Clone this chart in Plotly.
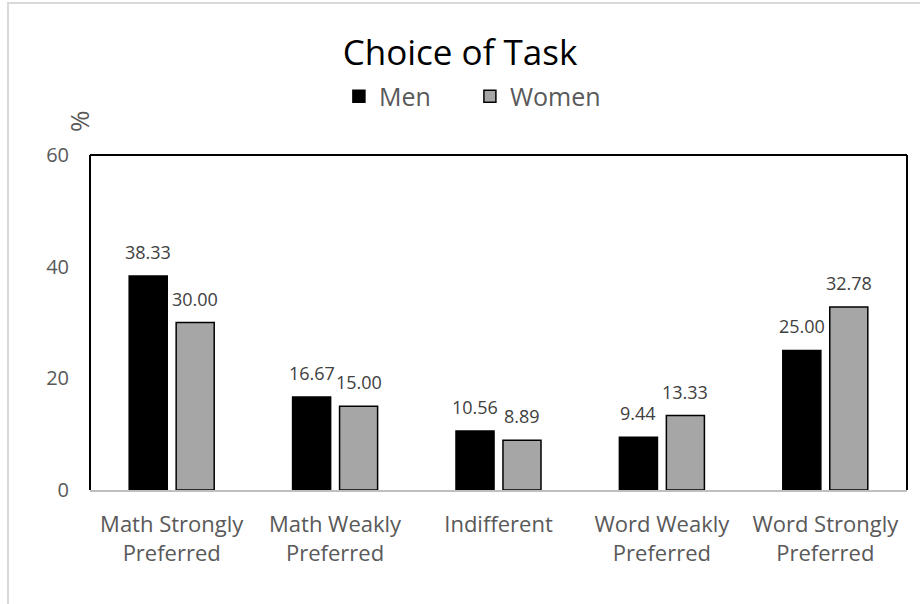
import plotly.graph_objects as go

categories = ["Math Strongly<br>Preferred", "Math Weakly<br>Preferred", "Indifferent",
              "Word Weakly<br>Preferred", "Word Strongly<br>Preferred"]
men = [38.33, 16.67, 10.56, 9.44, 25.00]
women = [30.00, 15.00, 8.89, 13.33, 32.78]
y_ticks = [0, 20, 40, 60]

FONT = "Open Sans"
W, H = 920, 604
ML, MR, MT, MB = 90, 13, 155, 114
BARGAP, GROUPGAP = 0.425, 0.19

fig = go.Figure()
fig.add_trace(go.Bar(
    name="Men", x=categories, y=men,
    marker=dict(color="#000000", line=dict(color="#000000", width=1.5)),
))
fig.add_trace(go.Bar(
    name="Women", x=categories, y=women,
    marker=dict(color="#a6a6a6", line=dict(color="#000000", width=1.5)),
))

# data labels above bars, shifted to each bar's slot in the group
cat_w = (W - ML - MR) / len(categories)
slot = cat_w * (1 - BARGAP) / 2
for vals, shift in [(men, -slot / 2), (women, slot / 2)]:
    for c, v in zip(categories, vals):
        fig.add_annotation(x=c, y=v, text=f"{v:.2f}", showarrow=False,
                           xshift=shift, yshift=10, yanchor="bottom",
                           font=dict(family=FONT, size=18, color="#404040"))

fig.update_layout(
    width=W, height=H,
    margin=dict(l=ML, r=MR, t=MT, b=MB),
    paper_bgcolor="white", plot_bgcolor="white",
    barmode="group", bargap=BARGAP, bargroupgap=GROUPGAP,
    title=dict(text="Choice of Task", x=0.5, xanchor="center", y=0.912, yanchor="middle",
               font=dict(family=FONT, size=35, color="#000000")),
    legend=dict(orientation="h", x=0.465, xanchor="center", y=1.175, yanchor="middle",
                font=dict(family=FONT, size=25, color="#595959"),
                itemwidth=30, entrywidth=86, entrywidthmode="pixels",
                traceorder="normal"),
    showlegend=True,
)
fig.update_xaxes(showline=True, linecolor="#bfbfbf", linewidth=2, ticks="",
                 tickfont=dict(family=FONT, size=22, color="#595959"), showgrid=False,
                 ticklabelstandoff=14)
fig.update_yaxes(range=[0, 60], tickvals=y_ticks, showgrid=False, zeroline=False,
                 showline=False, ticks="", ticklabelstandoff=20,
                 tickfont=dict(family=FONT, size=20, color="#595959"))

# black frame (left, top, right)
for x0, y0, x1, y1 in [(0, 0, 0, 1), (0, 1, 1, 1), (1, 0, 1, 1)]:
    fig.add_shape(type="line", xref="x domain", yref="y domain", x0=x0, y0=y0, x1=x1, y1=y1,
                  line=dict(color="#000000", width=2), layer="above")
# outer chart border (left and top visible)
fig.add_shape(type="rect", xref="paper", yref="paper",
              x0=(8 - ML) / (W - ML - MR), y0=-0.5,
              x1=1.2, y1=(H - MB - 3) / (H - MT - MB),
              line=dict(color="#d9d9d9", width=2), layer="below")

fig.add_annotation(text="%", xref="paper", yref="paper",
                   x=(59 - ML) / (W - ML - MR), y=(H - MB - 108) / (H - MT - MB),
                   showarrow=False, textangle=-90,
                   font=dict(family=FONT, size=26, color="#595959"))

fig.write_html("out.html", config={"displayModeBar": False},
               post_script="document.body.style.margin='0';document.body.style.overflow='hidden';")
